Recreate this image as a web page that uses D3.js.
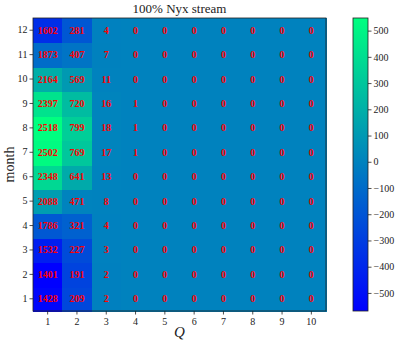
<!DOCTYPE html>
<html><head><meta charset="utf-8">
<script src="https://cdn.jsdelivr.net/npm/d3@7"></script>
<style>body{margin:0;background:#fff;} text{font-family:"Liberation Serif","DejaVu Serif",serif;}</style>
</head><body>
<svg id="c" width="399" height="343"></svg>
<script>
const months = [1,2,3,4,5,6,7,8,9,10,11,12];
const qs = [1,2,3,4,5,6,7,8,9,10];
// counts per Q column, indexed by month 1..12
const q1 = [1428,1401,1532,1786,2088,2348,2502,2518,2397,2164,1873,1602];
const q2 = [209,191,227,321,471,641,769,799,720,569,407,281];
const q3 = [2,2,3,4,8,13,17,18,16,11,7,4];
const q4 = [0,0,0,0,0,0,1,1,1,0,0,0];
const q5 = [0,0,0,0,0,0,0,0,0,0,0,0];
const q6 = [0,0,0,0,0,0,0,0,0,0,0,0];
const q7 = [0,0,0,0,0,0,0,0,0,0,0,0];
const q8 = [0,0,0,0,0,0,0,0,0,0,0,0];
const q9 = [0,0,0,0,0,0,0,0,0,0,0,0];
const q10 = [0,0,0,0,0,0,0,0,0,0,0,0];
const cols = [q1,q2,q3,q4,q5,q6,q7,q8,q9,q10];
const cbTicks = [-500,-400,-300,-200,-100,0,100,200,300,400,500];
const title = "100% Nyx stream";

const svg = d3.select("#c");
const L=33, R=326, T=18, B=311;
const x = d3.scaleBand().domain(qs).range([L,R]).padding(0);
const y = d3.scaleBand().domain(months).range([B,T]).padding(0);

// colour = anomaly from column mean
const cells = [];
cols.forEach((arr,ci)=>{
  const m = d3.mean(arr);
  arr.forEach((v,mi)=>cells.push({q:qs[ci], month:months[mi], v, a:v-m}));
});
const ext = d3.extent(cells, d=>d.a);
const winter = t => d3.rgb(0, Math.round(255*t), Math.round(255*(1-t/2)));
const c = d3.scaleLinear().domain(ext).range([0,1]);

svg.append("g").attr("shape-rendering","crispEdges").selectAll("rect").data(cells).join("rect")
  .attr("x",d=>x(d.q)).attr("y",d=>y(d.month))
  .attr("width",x.bandwidth()+1).attr("height",y.bandwidth()+1)
  .attr("fill",d=>winter(c(d.a)));

svg.append("g").selectAll("text").data(cells).join("text")
  .attr("x",d=>x(d.q)+x.bandwidth()/2).attr("y",d=>y(d.month)+y.bandwidth()/2)
  .attr("text-anchor","middle").attr("dominant-baseline","central")
  .attr("fill","#ff0000").attr("font-weight","bold").attr("font-size","10px")
  .text(d=>d.v);

svg.append("rect").attr("x",L).attr("y",T).attr("width",R-L).attr("height",B-T)
  .attr("fill","none").attr("stroke","#222").attr("stroke-width",0.8);

const ax = svg.append("g").attr("transform",`translate(0,${B})`).call(d3.axisBottom(x).tickSize(3.5).tickPadding(3));
const ay = svg.append("g").attr("transform",`translate(${L},0)`).call(d3.axisLeft(y).tickSize(3.5).tickPadding(2));
[ax,ay].forEach(g=>{g.select(".domain").remove();g.selectAll("line").attr("stroke","#222").attr("stroke-width",0.8);
  g.selectAll("text").attr("font-family","Liberation Serif, serif").attr("font-size","10px").attr("fill","#222");});

svg.append("text").attr("x",(L+R)/2).attr("y",13).attr("text-anchor","middle").attr("font-size","13px").attr("fill","#222").text(title);
svg.append("text").attr("x",(L+R)/2).attr("y",337).attr("text-anchor","middle").attr("font-size","15px").attr("font-style","italic").attr("fill","#222").text("Q");
svg.append("text").attr("transform",`translate(14,${(T+B)/2}) rotate(-90)`).attr("text-anchor","middle").attr("font-size","14px").attr("fill","#222").text("month");

// colorbar
const cbL=353, cbW=15;
const cy = d3.scaleLinear().domain(ext).range([B,T]);
const defs = svg.append("defs");
const grad = defs.append("linearGradient").attr("id","g").attr("x1",0).attr("y1",1).attr("x2",0).attr("y2",0);
d3.range(0,1.0001,0.1).forEach(t=>grad.append("stop").attr("offset",t).attr("stop-color",winter(t)));
svg.append("rect").attr("x",cbL).attr("y",T).attr("width",cbW).attr("height",B-T).attr("fill","url(#g)")
  .attr("stroke","#222").attr("stroke-width",0.8);
const cb = svg.append("g").attr("transform",`translate(${cbL+cbW},0)`).call(d3.axisRight(cy).tickValues(cbTicks).tickSize(3.5).tickPadding(2).tickFormat(d=>d<0?"\u2212"+Math.abs(d):d));
cb.select(".domain").remove();
cb.selectAll("line").attr("stroke","#222").attr("stroke-width",0.8);
cb.selectAll("text").attr("font-family","Liberation Serif, serif").attr("font-size","10px").attr("fill","#222");
</script>
</body></html>
